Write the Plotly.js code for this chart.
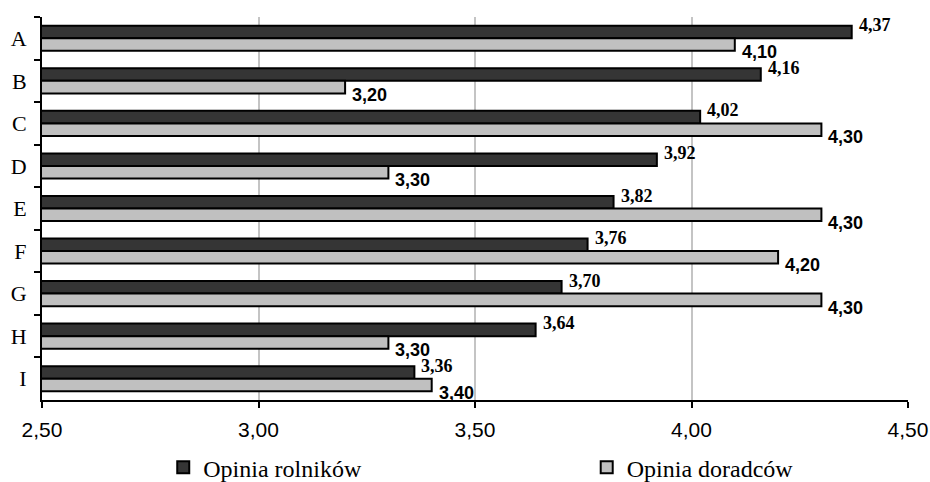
<!DOCTYPE html>
<html>
<head>
<meta charset="utf-8">
<script src="https://cdn.plot.ly/plotly-3.0.1.min.js"></script>
<style>html,body{margin:0;padding:0;background:#fff;}#chart{width:930px;height:482px;}</style>
</head>
<body>
<div id="chart"></div>
<script>
const categories = ["A", "B", "C", "D", "E", "F", "G", "H", "I"];
const rolnicy = [4.37, 4.16, 4.02, 3.92, 3.82, 3.76, 3.70, 3.64, 3.36];
const doradcy = [4.10, 3.20, 4.30, 3.30, 4.30, 4.20, 4.30, 3.30, 3.40];
const seriesNames = ["Opinia rolników", "Opinia doradców"];
const xTicks = [2.5, 3.0, 3.5, 4.0, 4.5];

const fmt = v => v.toFixed(2).replace(".", ",");

const traces = [
  {
    type: "bar", orientation: "h", name: seriesNames[0], legend: "legend",
    y: categories, x: rolnicy,
    marker: {color: "#353535", line: {color: "#000", width: 2}},
    hoverinfo: "skip"
  },
  {
    type: "bar", orientation: "h", name: seriesNames[1], legend: "legend2",
    y: categories, x: doradcy,
    marker: {color: "#c0c0c0", line: {color: "#000", width: 2}},
    hoverinfo: "skip"
  }
];

const annotations = [];
categories.forEach((c, i) => {
  annotations.push({
    x: rolnicy[i], y: c, xref: "x", yref: "y", text: fmt(rolnicy[i]),
    showarrow: false, xanchor: "left", yanchor: "middle", xshift: 5, yshift: 13,
    font: {family: "Liberation Serif, Times New Roman, serif", size: 18, color: "#000", weight: "bold"}
  });
  annotations.push({
    x: doradcy[i], y: c, xref: "x", yref: "y", text: fmt(doradcy[i]),
    showarrow: false, xanchor: "left", yanchor: "middle", xshift: 5, yshift: -14,
    font: {family: "Liberation Sans, Arial, sans-serif", size: 18, color: "#000", weight: "bold"}
  });
});

const legendFont = {family: "Liberation Serif, Times New Roman, serif", size: 24, color: "#000"};
const legendCommon = {
  orientation: "h", xanchor: "left", y: -0.118, yanchor: "top",
  font: legendFont, itemwidth: 30, itemclick: false, itemdoubleclick: false,
  bgcolor: "rgba(0,0,0,0)"
};

const layout = {
  width: 930, height: 482,
  margin: {l: 42, r: 22, t: 17, b: 82, autoexpand: false},
  paper_bgcolor: "#fff", plot_bgcolor: "#fff",
  barmode: "group", bargap: 0.41, bargroupgap: 0,
  showlegend: true,
  legend: Object.assign({x: 0.14}, legendCommon),
  legend2: Object.assign({x: 0.629}, legendCommon),
  xaxis: {
    range: [2.5, 4.5], tickvals: xTicks, ticktext: xTicks.map(fmt),
    showgrid: true, gridcolor: "#c4c4c4", gridwidth: 2,
    showline: true, linecolor: "#000", linewidth: 2,
    ticks: "outside", ticklen: 6, tickwidth: 2, tickcolor: "#000",
    ticklabelstandoff: 4,
    tickfont: {family: "Liberation Sans, Arial, sans-serif", size: 21, color: "#000"},
    zeroline: false, fixedrange: true
  },
  yaxis: {
    type: "category", range: [8.5, -0.5],
    showgrid: false, showline: true, linecolor: "#000", linewidth: 2,
    ticks: "outside", tickson: "boundaries", ticklen: 6, tickwidth: 2, tickcolor: "#000",
    tickfont: {family: "Liberation Serif, Times New Roman, serif", size: 22, color: "#000"},
    ticklabelstandoff: 9,
    zeroline: false, fixedrange: true
  },
  annotations: annotations
};

Plotly.newPlot("chart", traces, layout, {displayModeBar: false, staticPlot: true});
</script>
</body>
</html>
